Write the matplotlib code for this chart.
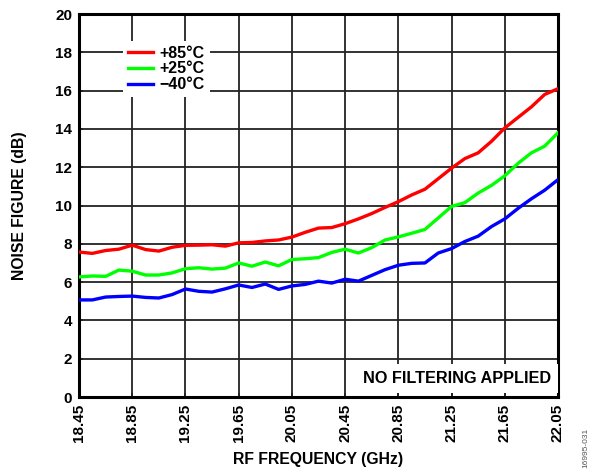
import matplotlib
matplotlib.use("Agg")
import matplotlib.pyplot as plt

# RF frequency (GHz)
freq = [18.45, 18.55, 18.65, 18.75, 18.85, 18.95, 19.05, 19.15, 19.25, 19.35,
        19.45, 19.55, 19.65, 19.75, 19.85, 19.95, 20.05, 20.15, 20.25, 20.35,
        20.45, 20.55, 20.65, 20.75, 20.85, 20.95, 21.05, 21.15, 21.25, 21.35,
        21.45, 21.55, 21.65, 21.75, 21.85, 21.95, 22.05]

# noise figure (dB)
nf_p85 = [7.57, 7.50, 7.65, 7.72, 7.93, 7.70, 7.62, 7.82, 7.92, 7.93,
          7.95, 7.88, 8.05, 8.07, 8.15, 8.20, 8.35, 8.60, 8.82, 8.85,
          9.05, 9.30, 9.58, 9.90, 10.20, 10.55, 10.85, 11.40, 11.95, 12.45,
          12.75, 13.35, 14.05, 14.60, 15.15, 15.80, 16.10]
nf_p25 = [6.27, 6.32, 6.30, 6.63, 6.57, 6.37, 6.37, 6.48, 6.70, 6.75,
          6.68, 6.73, 7.00, 6.83, 7.05, 6.85, 7.18, 7.22, 7.28, 7.55,
          7.72, 7.52, 7.80, 8.20, 8.36, 8.55, 8.75, 9.35, 9.95, 10.15,
          10.65, 11.05, 11.55, 12.20, 12.75, 13.10, 13.80]
nf_m40 = [5.07, 5.07, 5.22, 5.25, 5.27, 5.20, 5.17, 5.35, 5.64, 5.52,
          5.48, 5.65, 5.85, 5.72, 5.90, 5.62, 5.80, 5.88, 6.05, 5.95,
          6.15, 6.05, 6.35, 6.65, 6.88, 6.98, 7.00, 7.52, 7.75, 8.12,
          8.40, 8.90, 9.30, 9.85, 10.35, 10.80, 11.35]

xticks = [18.45, 18.85, 19.25, 19.65, 20.05, 20.45, 20.85, 21.25, 21.65, 22.05]
yticks = [0, 2, 4, 6, 8, 10, 12, 14, 16, 18, 20]

plt.rcParams['font.family'] = ['Liberation Sans', 'DejaVu Sans']
plt.rcParams['font.weight'] = 'bold'

fig = plt.figure(figsize=(5.95, 4.70), dpi=100)
ax = fig.add_axes([0.1328, 0.1553, 0.8050, 0.8149])

ax.plot(freq, nf_p85, color='#ff0000', lw=2.4, label='+85°C', solid_joinstyle='round', zorder=3)
ax.plot(freq, nf_p25, color='#00ff00', lw=2.4, label='+25°C', solid_joinstyle='round', zorder=3)
ax.plot(freq, nf_m40, color='#0000ff', lw=2.4, label='\u221240°C', solid_joinstyle='round', zorder=3)

ax.set_xlim(18.45, 22.05)
ax.set_ylim(0, 20)
ax.set_xticks(xticks)
ax.set_xticklabels(['%.2f' % v for v in xticks], rotation=90, fontsize=11, fontweight='bold')
ax.set_yticks(yticks)
ax.set_yticklabels([str(v) for v in yticks], fontsize=11, fontweight='bold')
ax.tick_params(direction='in', length=3, width=1.2, color='#222222', pad=5)
ax.grid(True, color='#222222', lw=1.3)
ax.set_axisbelow(True)
for s in ax.spines.values():
    s.set_linewidth(2.2)
    s.set_color('black')

ax.set_xlabel('RF FREQUENCY (GHz)', fontsize=11.3, fontweight='bold', labelpad=7)
ax.set_ylabel('NOISE FIGURE (dB)', fontsize=11.3, fontweight='bold', labelpad=20)

leg = ax.legend(loc='upper left', bbox_to_anchor=(0.092, 0.93), frameon=True,
                fontsize=11.5, handlelength=1.6, handletextpad=0.4,
                labelspacing=0.05, borderpad=0.3, borderaxespad=0)
leg.get_frame().set_edgecolor('none')
leg.get_frame().set_facecolor('white')
leg.get_frame().set_alpha(1)
for t in leg.get_texts():
    t.set_fontweight('bold')

ax.text(0.985, 0.03, 'NO FILTERING APPLIED', transform=ax.transAxes,
        ha='right', va='bottom', fontsize=11.7, fontweight='bold', zorder=4,
        bbox=dict(facecolor='white', edgecolor='none', pad=5))

fig.text(0.985, 0.005, '16995-031', rotation=90, ha='center', va='bottom',
         fontsize=6, color='#555555', fontweight='normal')

fig.savefig('out.png', dpi=100)
